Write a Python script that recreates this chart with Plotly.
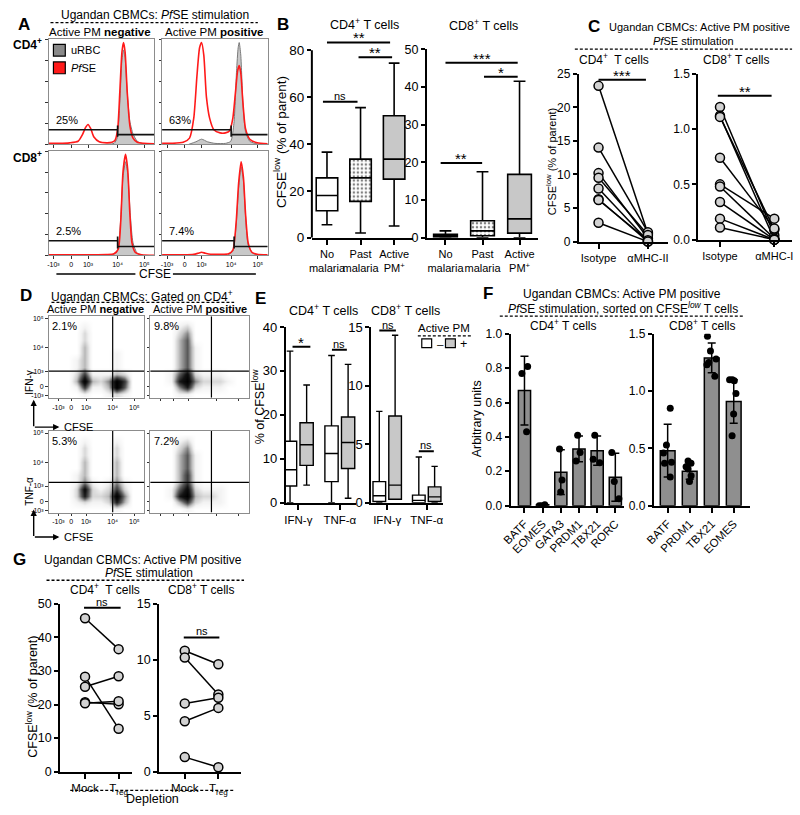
import plotly.graph_objects as go
import numpy as np

W, H = 800, 815
FONT = "Liberation Sans, Arial, Helvetica, sans-serif"
GRAY = "#c8c8c8"
BARGRAY = "#8f8f8f"
RED = "#ff1a1a"

# ============================ DATA ============================
# ---- Panel A: CFSE histograms (x = logicle display position 0-100, y = % of mode)
flow_ticktext = ["-10³", "0", "10³", "10⁴", "10⁵"]
A_xtickpos = [4.7, 21.5, 37.4, 65.4, 90.7]
A_ytickpos = [0, 20, 40, 60, 80, 100]

A_cd4_neg_pfse_x = [0, 10, 20, 28, 32, 35, 37.4, 40, 43, 48, 55, 60, 63, 65.5, 67.5, 69.5, 71, 72.5, 74.5, 77, 80, 84, 90, 100]
A_cd4_neg_pfse_y = [1, 1, 1.5, 3, 9, 16, 19, 15, 7, 2.5, 1.5, 2, 4, 15, 50, 88, 97, 88, 50, 18, 6, 2, 1, 0.5]
A_cd4_neg_urbc_x = [55, 62, 65, 67.5, 69.5, 71, 72.5, 74.5, 77, 80, 84, 90, 100]
A_cd4_neg_urbc_y = [0, 1, 6, 40, 80, 90, 82, 50, 22, 10, 3, 0.5, 0]

A_cd4_pos_pfse_x = [0, 10, 20, 26, 30, 33, 35.5, 37.4, 39.5, 42, 45, 49, 55, 60, 64, 67, 69.5, 71.5, 73, 74.5, 76.5, 79, 83, 90, 100]
A_cd4_pos_pfse_y = [1, 1, 2, 6, 25, 65, 92, 97, 85, 45, 25, 14, 11, 11, 13, 25, 50, 70, 75, 68, 40, 15, 5, 1.5, 0.5]
A_cd4_pos_urbc_x = [25, 32, 37.4, 43, 50, 60, 65, 68, 70.5, 72, 73, 74.5, 76.5, 79, 83, 90, 100]
A_cd4_pos_urbc_y = [0, 2.5, 5, 2.5, 1, 1, 3, 20, 70, 92, 97, 85, 40, 12, 3, 0.5, 0]

A_cd8_neg_pfse_x = [0, 20, 40, 55, 62, 66, 68.5, 70.5, 72.9, 75, 77, 79, 82, 88, 100]
A_cd8_neg_pfse_y = [0.5, 0.5, 0.5, 0.7, 1.5, 6, 35, 80, 97, 82, 40, 12, 3, 0.5, 0]
A_cd8_neg_urbc_x = [60, 65, 68, 70.5, 72.9, 75, 77.5, 80, 84, 90]
A_cd8_neg_urbc_y = [0, 4, 30, 75, 90, 78, 38, 12, 2, 0]

A_cd8_pos_pfse_x = [0, 20, 30, 34, 37.4, 41, 46, 55, 63, 67, 70, 72.5, 74.8, 77, 79, 81.5, 85, 90, 100]
A_cd8_pos_pfse_y = [0.5, 0.5, 1, 2, 3, 2, 1, 1, 1.5, 5, 30, 70, 90, 75, 40, 12, 3, 1, 0.5]
A_cd8_pos_urbc_x = [62, 67, 70, 72.5, 74.8, 77, 79, 81.5, 86, 92]
A_cd8_pos_urbc_y = [0, 4, 28, 65, 85, 72, 38, 10, 2, 0]

A_gate_split = [65.4, 65.4, 65.4, 68.2]
A_gate_low_y = [14, 14, 14, 14]
A_gate_high_y = [9.3, 9.3, 8.5, 8.5]
A_gate_pct = ["25%", "63%", "2.5%", "7.4%"]

# ---- Panel B: CFSE-low box plots
B_groups = ["No<br>malaria", "Past<br>malaria", "Active<br>PM<sup>+</sup>"]
B_cd4_low = [5.5, 2.0, 5.0]
B_cd4_q1 = [11.5, 15.5, 25.0]
B_cd4_med = [18.0, 25.5, 33.5]
B_cd4_q3 = [25.5, 33.5, 52.0]
B_cd4_high = [36.5, 55.5, 74.5]
B_cd8_low = [0.0, 0.0, 0.0]
B_cd8_q1 = [0.2, 0.5, 1.2]
B_cd8_med = [0.5, 1.8, 5.0]
B_cd8_q3 = [0.9, 4.5, 16.8]
B_cd8_high = [1.8, 17.5, 41.5]
B_cd4_ticks = [0, 20, 40, 60, 80]
B_cd8_ticks = [0, 10, 20, 30, 40, 50]
B_cd4_sig = [(0.0, 1.88, 83.3, "**"), (0.94, 1.94, 77.0, "**"), (-0.12, 0.91, 58.0, "ns")]
B_cd8_sig = [(0.0, 1.95, 46.4, "***"), (1.04, 1.95, 42.7, "*"), (-0.13, 0.99, 19.8, "**")]

# ---- Panel C: MHC blocking (paired)
C_cd4_cats = ["Isotype", "αMHC-II"]
C_cd4_iso = [23.2, 14.0, 10.2, 9.5, 7.9, 6.3, 6.2, 2.8]
C_cd4_ab = [1.2, 1.4, 0.5, 1.0, 0.1, 0.0, 0.2, 0.0]
C_cd8_cats = ["Isotype", "αMHC-I"]
C_cd8_iso = [1.20, 1.12, 1.11, 0.74, 0.50, 0.48, 0.34, 0.19, 0.11]
C_cd8_ab = [0.04, 0.0, 0.09, 0.10, 0.19, 0.01, 0.0, 0.0, 0.0]
C_cd4_ticks = [0, 5, 10, 15, 20, 25]
C_cd8_ticks = [0.0, 0.5, 1.0, 1.5]
C_cd4_sig = [(0.0, 0.96, 24.1, "***")]
C_cd8_sig = [(-0.04, 0.95, 1.30, "**")]

# ---- Panel D: dot plots as density grids (rows listed top -> bottom, 12 x 12)
D_xtickpos = [10.3, 23.7, 39.2, 67.0, 89.7]
D_ytickpos = [2.4, 13.3, 32.5, 61.4, 97.6]
D_vgate = [67, 62, 67, 62]
D_hgate = [32.5, 32.5, 37, 37]
D_pct = ["2.1%", "9.8%", "5.3%", "7.2%"]
D_ifn_neg = [
    [0, 0, 0, 0, 0, 0, 0, 0, 0, 0, 0, 0],
    [0, 0, 0, 0, 1, 0, 0, 0, 0, 0, 0, 0],
    [0, 0, 0, 0, 2, 0, 0, 0, 0, 0, 0, 0],
    [0, 0, 0, 0, 2, 0, 0, 0, 0, 0, 0, 0],
    [0, 0, 0, 0, 3, 0, 0, 0, 0, 0, 0, 0],
    [0, 0, 0, 0, 3, 0, 0, 0, 1, 0, 0, 0],
    [0, 0, 0, 1, 3, 0, 0, 0, 1, 0, 0, 0],
    [0, 0, 0, 1, 3, 0, 0, 0, 1, 0, 0, 0],
    [0, 0, 0, 2, 6, 1, 1, 1, 3, 2, 0, 0],
    [0, 0, 0, 3, 9, 3, 2, 4, 9, 6, 0, 0],
    [0, 0, 0, 1, 6, 1, 1, 3, 9, 5, 0, 0],
    [0, 0, 0, 0, 1, 0, 0, 1, 2, 1, 0, 0]]
D_ifn_pos = [
    [0, 0, 0, 0, 0, 0, 0, 0, 0, 0, 0, 0],
    [0, 0, 0, 1, 2, 0, 0, 0, 0, 0, 0, 0],
    [0, 0, 0, 2, 4, 0, 0, 0, 0, 0, 0, 0],
    [0, 0, 0, 3, 5, 0, 0, 0, 0, 0, 0, 0],
    [0, 0, 0, 3, 5, 1, 0, 0, 0, 0, 0, 0],
    [0, 0, 0, 3, 5, 1, 0, 0, 0, 0, 0, 0],
    [0, 0, 0, 3, 5, 1, 0, 0, 0, 0, 0, 0],
    [0, 0, 0, 3, 5, 1, 0, 0, 0, 0, 0, 0],
    [0, 0, 1, 5, 8, 2, 1, 1, 1, 0, 0, 0],
    [0, 0, 1, 7, 9, 4, 2, 2, 2, 1, 0, 0],
    [0, 0, 0, 4, 7, 2, 1, 1, 1, 0, 0, 0],
    [0, 0, 0, 1, 1, 0, 0, 0, 0, 0, 0, 0]]
D_tnf_neg = [
    [0, 0, 0, 0, 0, 0, 0, 0, 0, 0, 0, 0],
    [0, 0, 0, 0, 1, 0, 0, 0, 1, 0, 0, 0],
    [0, 0, 0, 0, 2, 0, 0, 0, 2, 0, 0, 0],
    [0, 0, 0, 0, 2, 0, 0, 0, 2, 0, 0, 0],
    [0, 0, 0, 0, 3, 0, 0, 0, 3, 0, 0, 0],
    [0, 0, 0, 0, 3, 0, 0, 0, 3, 0, 0, 0],
    [0, 0, 0, 1, 3, 0, 0, 0, 3, 0, 0, 0],
    [0, 0, 0, 1, 4, 1, 0, 1, 4, 1, 0, 0],
    [0, 0, 0, 2, 8, 2, 1, 2, 6, 2, 0, 0],
    [0, 0, 0, 2, 7, 2, 2, 3, 9, 4, 0, 0],
    [0, 0, 0, 1, 2, 1, 1, 2, 7, 3, 0, 0],
    [0, 0, 0, 0, 0, 0, 0, 0, 1, 0, 0, 0]]
D_tnf_pos = [
    [0, 0, 0, 0, 0, 0, 0, 0, 0, 0, 0, 0],
    [0, 0, 0, 1, 2, 0, 0, 0, 0, 0, 0, 0],
    [0, 0, 0, 2, 4, 0, 0, 0, 0, 0, 0, 0],
    [0, 0, 0, 3, 5, 1, 0, 0, 0, 0, 0, 0],
    [0, 0, 0, 3, 5, 1, 0, 0, 0, 0, 0, 0],
    [0, 0, 0, 3, 5, 1, 0, 0, 0, 0, 0, 0],
    [0, 0, 0, 3, 6, 1, 0, 0, 0, 0, 0, 0],
    [0, 0, 0, 3, 6, 1, 0, 0, 0, 0, 0, 0],
    [0, 0, 1, 5, 8, 2, 1, 1, 1, 0, 0, 0],
    [0, 0, 1, 7, 9, 3, 2, 2, 1, 0, 0, 0],
    [0, 0, 0, 3, 6, 2, 1, 1, 1, 0, 0, 0],
    [0, 0, 0, 0, 1, 0, 0, 0, 0, 0, 0, 0]]

# ---- Panel E: cytokine box plots (Active PM - / +)
E_cyto = ["IFN-γ", "TNF-α"]
E_cd4_neg = dict(low=[0, 0], q1=[3.8, 4.8], med=[7.5, 11.2], q3=[14.0, 17.5], high=[34.5, 33.5])
E_cd4_pos = dict(low=[4.0, 1.0], q1=[8.5, 7.8], med=[13.2, 13.7], q3=[18.2, 19.5], high=[26.8, 31.5])
E_cd8_neg = dict(low=[0, 0], q1=[0.1, 0.0], med=[0.6, 0.2], q3=[1.8, 0.65], high=[7.8, 3.9])
E_cd8_pos = dict(low=[0.3, 0.0], q1=[0.3, 0.1], med=[1.5, 0.5], q3=[7.4, 1.35], high=[14.3, 3.1])
E_cd4_ticks = [0, 10, 20, 30, 40]
E_cd8_ticks = [0, 5, 10, 15]
E_cd4_sig = [(-0.14, 0.29, 35.5, "*"), (0.81, 1.17, 34.8, "ns")]
E_cd8_sig = [(-0.2, 0.22, 14.7, "ns"), (0.8, 1.18, 4.4, "ns")]

# ---- Panel F: transcription factors in CFSE-low T cells
F_cd4_genes = ["BATF", "EOMES", "GATA3", "PRDM1", "TBX21", "RORC"]
F_cd4_mean = [0.67, 0.005, 0.195, 0.33, 0.32, 0.165]
F_cd4_sd = [0.20, 0.005, 0.13, 0.075, 0.085, 0.14]
F_cd4_pts = [[0.81, 0.77, 0.43], [0.0, 0.0, 0.005], [0.33, 0.15, 0.08],
             [0.41, 0.31, 0.26], [0.41, 0.27, 0.25], [0.31, 0.14, 0.04]]
F_cd8_genes = ["BATF", "PRDM1", "TBX21", "EOMES"]
F_cd8_mean = [0.48, 0.30, 1.29, 0.91]
F_cd8_sd = [0.23, 0.07, 0.13, 0.19]
F_cd8_pts = [[0.85, 0.53, 0.46, 0.38, 0.37, 0.25], [0.39, 0.37, 0.34, 0.32, 0.26, 0.21],
             [1.48, 1.35, 1.28, 1.25, 1.23, 1.13], [1.10, 1.10, 1.09, 0.98, 0.80, 0.61]]
F_cd4_ticks = [0.0, 0.2, 0.4, 0.6, 0.8, 1.0]
F_cd8_ticks = [0.0, 0.5, 1.0, 1.5]

# ---- Panel G: Treg depletion (paired)
G_cats = ["Mock", "T<sub>reg</sub>"]
G_cd4_mock = [45.7, 28.3, 25.3, 20.7, 20.4]
G_cd4_treg = [36.5, 12.8, 28.4, 20.1, 21.0]
G_cd8_mock = [10.8, 10.2, 6.1, 4.5, 1.3]
G_cd8_treg = [9.6, 6.9, 6.6, 5.7, 0.4]
G_cd4_ticks = [0, 10, 20, 30, 40, 50]
G_cd8_ticks = [0, 5, 10, 15]
G_cd4_sig = [(-0.03, 1.06, 48.8, "ns")]
G_cd8_sig = [(-0.03, 1.03, 12.0, "ns")]

# ============================ FIGURE ============================
BOXGAP, BOXGROUPGAP = 0.2, 0.2
BOXW = (1 - BOXGAP) * (1 - BOXGROUPGAP)

fig = go.Figure()
L = {}
shapes = []
ann = []


def names(n):
    s = '' if n == 1 else str(n)
    return 'x' + s, 'y' + s, 'xaxis' + s, 'yaxis' + s


def text(x, y, s, size=11.5, xanchor='center', yanchor='middle', angle=0):
    ann.append(dict(x=x / W, y=1 - y / H, xref='paper', yref='paper', text=s, showarrow=False,
                    font=dict(size=size, family=FONT, color='black'),
                    xanchor=xanchor, yanchor=yanchor, textangle=angle))


def dashed(x0, x1, y):
    shapes.append(dict(type='line', xref='paper', yref='paper', x0=x0 / W, x1=x1 / W,
                       y0=1 - y / H, y1=1 - y / H,
                       line=dict(color='black', width=1.3, dash='3px,2px')))


def pline(x0, y0, x1, y1, w=1.3, color='black'):
    shapes.append(dict(type='line', xref='paper', yref='paper', x0=x0 / W, x1=x1 / W,
                       y0=1 - y0 / H, y1=1 - y1 / H, line=dict(color=color, width=w)))


def prect(x0, y0, x1, y1, fill):
    shapes.append(dict(type='rect', xref='paper', yref='paper', x0=x0 / W, x1=x1 / W,
                       y0=1 - y1 / H, y1=1 - y0 / H, fillcolor=fill,
                       line=dict(color='black', width=1.2)))


def flow_axes(n, xl, xr, yt, yb, xtv, ytv, xlab, ylab, yticktext=None):
    xn, yn, xk, yk = names(n)
    common = dict(range=[0, 100], showline=True, mirror=True, linecolor='#8c8c8c', linewidth=1,
                  ticks='outside', ticklen=2.5, tickwidth=1, tickcolor='#333',
                  tickfont=dict(size=7, family=FONT, color='black'),
                  showgrid=False, zeroline=False, fixedrange=True)
    L[xk] = dict(domain=[xl / W, xr / W], anchor=yn, tickvals=xtv, ticktext=flow_ticktext,
                 showticklabels=xlab, **common)
    ya = dict(domain=[1 - yb / H, 1 - yt / H], anchor=xn, tickvals=ytv,
              showticklabels=ylab, **common)
    if yticktext is not None:
        ya['ticktext'] = yticktext
    L[yk] = ya


def gp_axes(n, cats, c0, sp, xr, y0px, vtop, ytoppx, yrtop, ticks, fs, xfs=None, xangle=0,
            yfmt=None, yline=True):
    xn, yn, xk, yk = names(n)
    k = (y0px - ytoppx) / vtop
    L[xk] = dict(domain=[(c0 + sp * xr[0]) / W, (c0 + sp * xr[1]) / W], anchor=yn,
                 type='category', categoryorder='array', categoryarray=cats, range=xr,
                 showline=True, linewidth=2, linecolor='black', ticks='outside', ticklen=5,
                 tickwidth=1.5, tickcolor='black', tickangle=xangle,
                 tickfont=dict(size=xfs or fs, family=FONT, color='black'),
                 showgrid=False, zeroline=False, fixedrange=True)
    L[yk] = dict(domain=[1 - y0px / H, 1 - (y0px - yrtop * k) / H], anchor=xn,
                 range=[0, yrtop], showline=yline, linewidth=2, linecolor='black',
                 ticks='outside', ticklen=4, tickwidth=1.5, tickcolor='black',
                 tickvals=ticks, tickformat=yfmt,
                 tickfont=dict(size=fs, family=FONT, color='black'),
                 showgrid=False, zeroline=False, fixedrange=True)
    if not yline:
        shapes.append(dict(type='line', xref=xn + ' domain', yref=yn, x0=0, x1=0,
                           y0=0, y1=vtop, line=dict(color='black', width=2)))


def sig(n, items, ast_size=15, ns_size=11):
    xn, yn, _, _ = names(n)
    for x0, x1, y, lab in items:
        shapes.append(dict(type='line', xref=xn, yref=yn, x0=x0, x1=x1, y0=y, y1=y,
                           line=dict(color='black', width=2)))
        star = '*' in lab
        ann.append(dict(x=(x0 + x1) / 2, y=y, xref=xn, yref=yn, text=lab, showarrow=False,
                        yanchor='bottom', yshift=-6 if star else -2,
                        font=dict(size=ast_size if star else ns_size, family=FONT, color='black')))


def box(n, cats, low, q1, med, q3, high, fill, og, ag, lw=1.6):
    xn, yn, _, _ = names(n)
    fig.add_trace(go.Box(x=cats, lowerfence=low, q1=q1, median=med, q3=q3, upperfence=high,
                         orientation='v', fillcolor=fill, line=dict(color='black', width=lw),
                         whiskerwidth=0.5, boxpoints=False, offsetgroup=og, alignmentgroup=ag,
                         xaxis=xn, yaxis=yn, hoverinfo='skip'))


def paired(n, cats, a, b):
    xn, yn, _, _ = names(n)
    xs, ys = [], []
    for u, v in zip(a, b):
        xs += [cats[0], cats[1], None]
        ys += [u, v, None]
    fig.add_trace(go.Scatter(x=xs, y=ys, mode='lines+markers', connectgaps=False,
                             line=dict(color='black', width=1.5),
                             marker=dict(size=9, color='#d2d2d2', line=dict(color='black', width=1.5)),
                             cliponaxis=False, xaxis=xn, yaxis=yn, hoverinfo='skip'))


# ---------------- Panel A ----------------
A_boxes = [(40, 147, 33, 140), (155, 262, 33, 140), (40, 147, 147, 253), (155, 262, 147, 253)]
A_hist = [(A_cd4_neg_urbc_x, A_cd4_neg_urbc_y, A_cd4_neg_pfse_x, A_cd4_neg_pfse_y),
          (A_cd4_pos_urbc_x, A_cd4_pos_urbc_y, A_cd4_pos_pfse_x, A_cd4_pos_pfse_y),
          (A_cd8_neg_urbc_x, A_cd8_neg_urbc_y, A_cd8_neg_pfse_x, A_cd8_neg_pfse_y),
          (A_cd8_pos_urbc_x, A_cd8_pos_urbc_y, A_cd8_pos_pfse_x, A_cd8_pos_pfse_y)]
for i, (bx, h) in enumerate(zip(A_boxes, A_hist)):
    n = i + 1
    xn, yn, _, _ = names(n)
    flow_axes(n, *bx, xtv=A_xtickpos, ytv=A_ytickpos, xlab=(i >= 2), ylab=False)
    ux, uy, rx, ry = h
    fig.add_trace(go.Scatter(x=ux, y=uy, mode='lines', fill='tozeroy', fillcolor=GRAY,
                             line=dict(color='#7a7a7a', width=1, shape='spline', smoothing=0.6),
                             xaxis=xn, yaxis=yn, hoverinfo='skip'))
    fig.add_trace(go.Scatter(x=rx, y=ry, mode='lines',
                             line=dict(color=RED, width=1.6, shape='spline', smoothing=0.6),
                             xaxis=xn, yaxis=yn, hoverinfo='skip'))
    g, yl, yh = A_gate_split[i], A_gate_low_y[i], A_gate_high_y[i]
    for (x0, x1, y0, y1) in [(0, g, yl, yl), (g, 100, yh, yh), (g, g, yh - 2, yl + 4)]:
        shapes.append(dict(type='line', xref=xn, yref=yn, x0=x0, x1=x1, y0=y0, y1=y1,
                           line=dict(color='#111', width=1.6)))
    ann.append(dict(x=5, y=yl + 2, xref=xn, yref=yn, text=A_gate_pct[i], showarrow=False,
                    xanchor='left', yanchor='bottom',
                    font=dict(size=11, family=FONT, color='black')))

text(15, 18, "<b>A</b>", 17)
text(148, 8, "Ugandan CBMCs: <i>Pf</i>SE stimulation", 12)
dashed(42, 252, 16)
text(92, 25, "Active PM <b>negative</b>", 11.5)
text(208, 25, "Active PM <b>positive</b>", 11.5)
text(2, 38, "<b>CD4<sup>+</sup></b>", 12, xanchor='left')
text(2, 153, "<b>CD8<sup>+</sup></b>", 12, xanchor='left')
prect(45, 38, 57, 50, '#8a8a8a')
prect(45, 56, 57, 68, RED)
text(61, 44, "uRBC", 11, xanchor='left')
text(61, 62, "<i>Pf</i>SE", 11, xanchor='left')
pline(48, 272, 128, 272, 1.5)
pline(166, 272, 250, 272, 1.5)
text(148, 272, "CFSE", 12)

# ---------------- Panel B ----------------
gp_axes(5, B_groups, 322, 34, [-0.45, 2.55], 235, 80, 44, 85, B_cd4_ticks, 13.5, xfs=11, yline=False)
gp_axes(6, B_groups, 442, 37.5, [-0.5, 2.5], 235, 50, 43, 50, B_cd8_ticks, 12.5, xfs=11)
B_fill = ['white', 'rgba(0,0,0,0)', GRAY]
for n, lo, q1, md, q3, hi in [(5, B_cd4_low, B_cd4_q1, B_cd4_med, B_cd4_q3, B_cd4_high),
                              (6, B_cd8_low, B_cd8_q1, B_cd8_med, B_cd8_q3, B_cd8_high)]:
    xn, yn, _, _ = names(n)
    fig.add_trace(go.Bar(x=[B_groups[1]], y=[q3[1] - q1[1]], base=[q1[1]], width=[BOXW],
                         marker=dict(color='white', line=dict(width=0),
                                     pattern=dict(shape='.', fgcolor='black', bgcolor='white',
                                                  size=4, solidity=0.3)),
                         xaxis=xn, yaxis=yn, hoverinfo='skip'))
    for j in range(3):
        box(n, [B_groups[j]], [lo[j]], [q1[j]], [md[j]], [q3[j]], [hi[j]], B_fill[j], 'b', f'B{n}')
sig(5, B_cd4_sig)
sig(6, B_cd8_sig)
text(277, 18, "<b>B</b>", 17)
text(360, 17, "CD4<sup>+</sup> T cells", 12.5)
text(481, 18, "CD8<sup>+</sup> T cells", 12.5)
text(275, 138, "CFSE<sup>low</sup> (% of parent)", 13.5, angle=-90)

# ---------------- Panel C ----------------
gp_axes(7, C_cd4_cats, 597, 50, [-0.4, 1.4], 239, 25, 68, 25, C_cd4_ticks, 12, xfs=11)
gp_axes(8, C_cd8_cats, 720, 55, [-0.4, 1.33], 237, 1.5, 68, 1.5, C_cd8_ticks, 12, xfs=11, yfmt='.1f')
paired(7, C_cd4_cats, C_cd4_iso, C_cd4_ab)
paired(8, C_cd8_cats, C_cd8_iso, C_cd8_ab)
sig(7, C_cd4_sig)
sig(8, C_cd8_sig)
text(592, 20, "<b>C</b>", 17)
text(699, 20, "Ugandan CBMCs: Active PM positive", 11)
text(693, 35, "<i>Pf</i>SE stimulation", 11)
dashed(573, 793, 43)
text(613, 53, "CD4<sup>+</sup>  T cells", 12)
text(737, 53, "CD8<sup>+</sup> T cells", 12)
text(549, 157, "CFSE<sup>low</sup> (% of parent)", 11, angle=-90)

# ---------------- Panel D ----------------
D_boxes = [(40, 137, 315, 398), (143, 243, 315, 398), (40, 137, 432, 515), (143, 243, 432, 515)]
D_grids = [D_ifn_neg, D_ifn_pos, D_tnf_neg, D_tnf_pos]
grid_c = np.linspace(100 / 24, 100 - 100 / 24, 12)
D_scale = [[0, '#ffffff'], [0.12, '#f3f3f3'], [0.3, '#c4c4c4'], [0.55, '#5a5a5a'],
           [0.8, '#141414'], [1, '#000000']]
for i, (bx, z) in enumerate(zip(D_boxes, D_grids)):
    n = 9 + i
    xn, yn, _, _ = names(n)
    flow_axes(n, *bx, xtv=D_xtickpos, ytv=D_ytickpos, xlab=(i % 2 == 0), ylab=(i % 2 == 0),
              yticktext=flow_ticktext)
    fig.add_trace(go.Heatmap(z=z[::-1], x=grid_c, y=grid_c, colorscale=D_scale, zmin=0, zmax=9,
                             showscale=False, zsmooth='best', xaxis=xn, yaxis=yn, hoverinfo='skip'))
    shapes.append(dict(type='line', xref=xn, yref=yn, x0=D_vgate[i], x1=D_vgate[i], y0=0, y1=100,
                       line=dict(color='black', width=1.2)))
    shapes.append(dict(type='line', xref=xn, yref=yn, x0=0, x1=100, y0=D_hgate[i], y1=D_hgate[i],
                       line=dict(color='black', width=1.2)))
    ann.append(dict(x=2, y=98, xref=xn, yref=yn, text=D_pct[i], showarrow=False,
                    xanchor='left', yanchor='top', font=dict(size=11, family=FONT, color='black')))

text(17, 294, "<b>D</b>", 17)
text(135, 294, "Ugandan CBMCs: Gated on CD4<sup>+</sup>", 12)
dashed(43, 228, 301)
text(88, 308, "Active PM <b>negative</b>", 11)
text(193, 308, "Active PM <b>positive</b>", 11)
text(21, 383, "IFN-γ", 10, angle=-90)
text(21, 493, "TNF-α", 10, angle=-90)
for yb in (428, 540):
    ann.append(dict(x=25 / W, y=1 - (yb - 28) / H, xref='paper', yref='paper', text='',
                    showarrow=True, arrowhead=2, arrowsize=0.9, arrowwidth=1.4, arrowcolor='black',
                    ax=0, ay=28))
    ann.append(dict(x=51 / W, y=1 - yb / H, xref='paper', yref='paper', text='',
                    showarrow=True, arrowhead=2, arrowsize=0.9, arrowwidth=1.4, arrowcolor='black',
                    ax=-26, ay=0))
    text(54, yb, "CFSE", 11, xanchor='left')

# ---------------- Panel E ----------------
gp_axes(13, E_cyto, 293, 42, [-0.3, 1.4], 505, 40, 326, 40, E_cd4_ticks, 13, xfs=11.5)
gp_axes(14, E_cyto, 383, 40, [-0.4, 1.42], 505, 15, 326, 15, E_cd8_ticks, 13, xfs=11.5)
for n, neg, pos in [(13, E_cd4_neg, E_cd4_pos), (14, E_cd8_neg, E_cd8_pos)]:
    box(n, E_cyto, neg['low'], neg['q1'], neg['med'], neg['q3'], neg['high'], 'white', 'neg', f'E{n}', 1.4)
    box(n, E_cyto, pos['low'], pos['q1'], pos['med'], pos['q3'], pos['high'], GRAY, 'pos', f'E{n}', 1.4)
sig(13, E_cd4_sig)
sig(14, E_cd8_sig)
text(255, 297, "<b>E</b>", 17)
text(318, 309, "CD4<sup>+</sup> T cells", 12.5)
text(402, 309, "CD8<sup>+</sup> T cells", 12.5)
text(252, 407, "% of CFSE<sup>low</sup>", 12.5, angle=-90)
text(441, 327, "Active PM", 11.5)
dashed(414, 468, 335)
prect(418, 338, 428, 347, 'white')
text(431, 343, "–", 11.5, xanchor='left')
prect(442, 338, 452, 347, GRAY)
text(455, 343, "+", 12.5, xanchor='left')

# ---------------- Panel F ----------------
gp_axes(15, F_cd4_genes, 522, 18.4, [-0.76, 5.45], 508, 1.0, 333, 1.0, F_cd4_ticks, 12,
        xfs=11.5, xangle=-45, yfmt='.1f')
gp_axes(16, F_cd8_genes, 667, 22.3, [-0.63, 3.72], 508, 1.5, 333, 1.5, F_cd8_ticks, 12,
        xfs=11.5, xangle=-45, yfmt='.1f')
for n, genes, mean, sd, pts in [(15, F_cd4_genes, F_cd4_mean, F_cd4_sd, F_cd4_pts),
                                (16, F_cd8_genes, F_cd8_mean, F_cd8_sd, F_cd8_pts)]:
    xn, yn, _, _ = names(n)
    fig.add_trace(go.Bar(x=genes, y=mean,
                         error_y=dict(type='data', array=sd, visible=True, color='black',
                                      thickness=1.5, width=4),
                         marker=dict(color=BARGRAY, line=dict(color='black', width=1.5)),
                         xaxis=xn, yaxis=yn, hoverinfo='skip'))
    px_, py_ = [], []
    for g, vals in zip(genes, pts):
        px_ += [g] * len(vals)
        py_ += vals
    fig.add_trace(go.Box(x=px_, y=py_, boxpoints='all', jitter=0.7, pointpos=0,
                         fillcolor='rgba(0,0,0,0)', line=dict(color='rgba(0,0,0,0)', width=0),
                         marker=dict(color='black', size=7), offsetgroup='p', alignmentgroup=f'F{n}',
                         xaxis=xn, yaxis=yn, hoverinfo='skip'))
text(485, 292, "<b>F</b>", 17)
text(621, 292, "Ugandan CBMCs: Active PM positive", 12)
text(622, 307, "<i>Pf</i>SE stimulation, sorted on CFSE<sup><i>low</i></sup> T cells", 12)
dashed(497, 745, 315)
text(562, 324, "CD4<sup>+</sup> T cells", 12)
text(702, 324, "CD8<sup>+</sup> T cells", 12)
text(474, 420, "Arbitrary units", 12.5, angle=-90)

# ---------------- Panel G ----------------
gp_axes(17, G_cats, 77, 34, [-0.74, 1.41], 779, 50, 608, 50, G_cd4_ticks, 12.5, xfs=11.5)
gp_axes(18, G_cats, 178, 34, [-0.76, 1.68], 779, 15, 608, 15, G_cd8_ticks, 12.5, xfs=11.5)
paired(17, G_cats, G_cd4_mock, G_cd4_treg)
paired(18, G_cats, G_cd8_mock, G_cd8_treg)
sig(17, G_cd4_sig)
sig(18, G_cd8_sig)
text(11, 563, "<b>G</b>", 17)
text(136, 563, "Ugandan CBMCs: Active PM positive", 12)
text(142, 577, "<i>Pf</i>SE stimulation", 12)
dashed(38, 238, 584)
text(97, 593, "CD4<sup>+</sup>  T cells", 12)
text(195, 593, "CD8<sup>+</sup> T cells", 12)
text(23, 703, "CFSE<sup>low</sup> (% of parent)", 12.5, angle=-90)
dashed(62, 228, 798)
text(145, 807, "Depletion", 12.5)

fig.update_layout(width=W, height=H, margin=dict(l=0, r=0, t=0, b=0),
                  paper_bgcolor='white', plot_bgcolor='white', showlegend=False,
                  font=dict(family=FONT, color='black', size=11),
                  boxmode='group', boxgap=BOXGAP, boxgroupgap=BOXGROUPGAP,
                  barmode='group', bargap=0.33,
                  shapes=shapes, annotations=ann, **L)
fig.write_html("out.html", config={'displayModeBar': False},
               post_script="document.body.style.margin='0px';document.body.style.padding='0px';")
